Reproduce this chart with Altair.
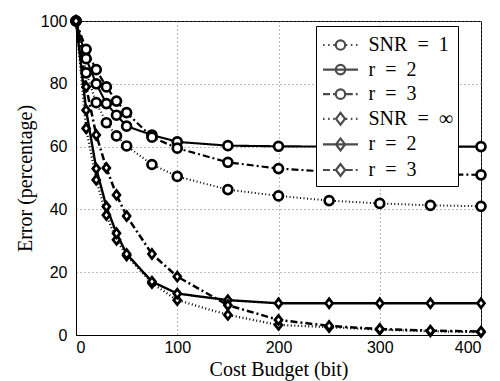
import altair as alt
import pandas as pd

# ---- data ----
budget = [0, 10, 20, 30, 40, 50, 75, 100, 150, 200, 250, 300, 350, 400]

snr1 = [100, 83.5, 74, 67.6, 63.4, 60.2, 54.3, 50.5, 46.3, 44.3, 42.8, 41.9, 41.3, 41.0]
snr1_r2 = [100, 88, 80, 73.7, 70, 66.5, 63.7, 61.5, 60.3, 60.1, 60, 60, 60, 60]
snr1_r3 = [100, 91, 84.5, 79, 74.5, 70.8, 63, 59.5, 55, 53, 52, 51.5, 51.2, 51]
snrinf = [100, 65.8, 49.4, 38.2, 30.3, 25.3, 16.5, 11.1, 6.4, 3.2, 2.5, 1.7, 1.2, 0.9]
snrinf_r2 = [100, 71.6, 53, 40.9, 32.4, 25.8, 17, 13.2, 11.1, 10.1, 10.1, 10.1, 10.1, 10.1]
snrinf_r3 = [100, 79, 63.7, 53.2, 44.6, 37.9, 25.8, 18.6, 9.5, 4.8, 2.9, 1.9, 1.4, 1.1]

keys = ["s1", "s1r2", "s1r3", "si", "sir2", "sir3"]
labels = ["SNR\u2002=\u20021", "r\u2002=\u20022", "r\u2002=\u20023",
          "SNR\u2002=\u2002\u221e", "r\u2002=\u20022", "r\u2002=\u20023"]
markers = ["circle", "circle", "circle", "diamond", "diamond", "diamond"]
values = [snr1, snr1_r2, snr1_r3, snrinf, snrinf_r2, snrinf_r3]

rows = []
for k, m, vals in zip(keys, markers, values):
    for b, v in zip(budget, vals):
        rows.append({"budget": b, "error": v, "series": k, "marker": m})
df = pd.DataFrame(rows)

# ---- styles ----
dashes = [[1, 2.5], [1, 0], [7, 3, 2, 3], [1, 2.5], [1, 0], [7, 3, 2, 3]]
widths = [2, 2.5, 2.2, 2, 2.5, 2.2]
diamond_path = "M-0.78,0L0,-1L0.78,0L0,1Z"

LEG_SIZE = 625          # legend symbol box 25px; paths reach +-1.4 -> 35px line
EXT = 1.4


def seg_pattern(pattern, x0, x1):
    out = []
    x = x0
    i = 0
    while x < x1 - 1e-6:
        L = pattern[i % len(pattern)]
        if i % 2 == 0:
            out.append("M%.3f,0L%.3f,0" % (x, min(x + L, x1)))
        x += L
        i += 1
    return "".join(out)


def circle_path(r):
    return "M%.3f,0A%.3f,%.3f 0 1,0 %.3f,0A%.3f,%.3f 0 1,0 %.3f,0Z" % (-r, r, r, r, r, r, -r)


def diamond_small(w, h):
    return "M%.3f,0L0,%.3f L%.3f,0L0,%.3fZ" % (-w, -h, w, h)


s = 1.4  # unit rescale factor relative to a 35px-wide symbol
unit_patterns = {
    "dot": [0.09 * s, 0.2 * s],
    "dashdot": [0.4 * s, 0.17 * s, 0.11 * s, 0.17 * s],
}
kinds = ["dot", "solid", "dashdot", "dot", "solid", "dashdot"]
legend_paths = []
for m, kd in zip(markers, kinds):
    if kd == "solid":
        line = "M%.3f,0L%.3f,0" % (-EXT, EXT)
    else:
        line = seg_pattern(unit_patterns[kd], -EXT, -0.3 * s) + seg_pattern(unit_patterns[kd], 0.3 * s, EXT)
    mk = circle_path(0.27 * s) if m == "circle" else diamond_small(0.26 * s, 0.34 * s)
    legend_paths.append(line + mk)

label_expr = " : ".join(
    "datum.value == '%s' ? '%s'" % (k, l) for k, l in zip(keys, labels)
) + " : ''"

x_enc = alt.X("budget:Q", scale=alt.Scale(domain=[0, 400], nice=False),
              axis=alt.Axis(values=[0, 100, 200, 300, 400], title="Cost Budget (bit)"))
y_enc = alt.Y("error:Q", scale=alt.Scale(domain=[0, 100], nice=False),
              axis=alt.Axis(values=[0, 20, 40, 60, 80, 100], title="Error (percentage)"))

lines = alt.Chart(df).mark_line(color="black").encode(
    x=x_enc, y=y_enc,
    detail="series:N",
    strokeDash=alt.StrokeDash("series:N", scale=alt.Scale(domain=keys, range=dashes), legend=None),
    strokeWidth=alt.StrokeWidth("series:N", scale=alt.Scale(domain=keys, range=widths), legend=None),
)

points = alt.Chart(df).mark_point(filled=True, fill="white", stroke="black",
                                  strokeWidth=2.7, size=80, opacity=1).encode(
    x="budget:Q", y="error:Q",
    shape=alt.Shape("marker:N", scale=alt.Scale(domain=["circle", "diamond"],
                                                range=["circle", diamond_path]), legend=None),
)

legend_layer = alt.Chart(df).transform_filter("false").mark_point(
    filled=False, color="black", size=LEG_SIZE, strokeWidth=2).encode(
    x="budget:Q", y="error:Q",
    shape=alt.Shape("series:N", scale=alt.Scale(domain=keys, range=legend_paths),
                    legend=alt.Legend(
                        title=None, orient="none", legendX=240, legendY=5,
                        labelExpr=label_expr,
                        labelFont="Liberation Serif", labelFontSize=20, labelColor="black",
                        symbolSize=LEG_SIZE, symbolStrokeWidth=2.2, symbolStrokeColor="black",
                        fillColor="white", strokeColor="black", padding=5,
                        rowPadding=0.6, labelOffset=14, symbolOffset=5.5,
                    )),
)

chart = alt.layer(lines, points, legend_layer).resolve_scale(
    shape="independent"
).properties(
    width=405, height=314,
    autosize=alt.AutoSizeParams(type="none"),
    padding={"left": 68, "top": 13, "right": 11, "bottom": 60},
).configure_view(stroke="black", strokeWidth=1).configure_axis(
    domainColor="black", domainWidth=1, tickSize=0,
    labelFont="Liberation Sans", labelFontSize=16, labelColor="black",
    titleFont="Liberation Serif", titleFontSize=20, titleFontWeight="normal", titleColor="black",
    grid=True, gridColor="#777777", gridDash=[1, 3], gridWidth=1,
).configure_axisX(labelPadding=4, titlePadding=4).configure_axisY(labelPadding=9, titlePadding=5)

chart.save("out.html", embed_options={"renderer": "svg", "actions": False})
